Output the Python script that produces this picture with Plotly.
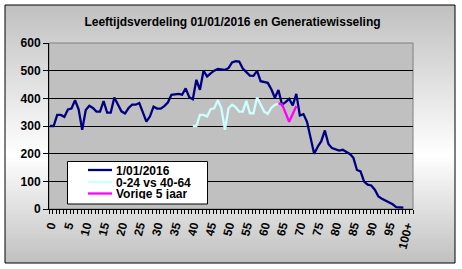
import plotly.graph_objects as go

W, H = 462, 269

# ---------------- data ----------------
ages = list(range(0, 100))
pop_2016 = [
    300, 300, 340, 340, 333, 360, 363, 393, 360, 286,
    358, 373, 365, 352, 352, 390, 348, 348, 403, 377,
    353, 345, 365, 377, 377, 383, 347, 316, 335, 370,
    363, 363, 372, 385, 413, 415, 416, 413, 436, 404,
    397, 467, 431, 500, 479, 490, 500, 506, 505, 503,
    509, 530, 534, 533, 508, 493, 482, 481, 499, 462,
    459, 456, 433, 402, 430, 377, 386, 398, 374, 416,
    338, 343, 315, 262, 200, 225, 245, 284, 235, 220,
    215, 211, 214, 207, 199, 185, 141, 136, 99, 88,
    85, 70, 45, 37, 30, 25, 17, 7, 5, 5,
]
gen_x = list(range(40, 65))
gen_vals = [300, 300, 340, 340, 334, 361, 364, 393, 364, 286,
            364, 377, 368, 352, 352, 391, 346, 346, 403, 377,
            352, 344, 365, 377, 380]
prev_x = list(range(64, 70))
prev_vals = [382, 378, 347, 315, 343, 372]

x_tick_vals = list(range(0, 101, 5))
x_tick_text = [str(v) for v in range(0, 100, 5)] + ["100+"]
y_tick_vals = [0, 100, 200, 300, 400, 500, 600]
y_grid_vals = [100, 200, 300, 400, 500]

series_names = ["1/01/2016", "0-24 vs 40-64", "Vorige 5 jaar"]
series_colors = ["#000080", "#CCFFFF", "#FF00FF"]
title_text = "Leeftijdsverdeling 01/01/2016 en Generatiewisseling"

FONT = "Liberation Sans, Arial, sans-serif"


def px(x):
    return x / W


def py(y):
    return 1 - y / H


fig = go.Figure()
for xs, ys, name, col in [
    (ages, pop_2016, series_names[0], series_colors[0]),
    (gen_x, gen_vals, series_names[1], series_colors[1]),
    (prev_x, prev_vals, series_names[2], series_colors[2]),
]:
    fig.add_trace(go.Scatter(x=xs, y=ys, mode="lines", name=name,
                             line=dict(color=col, width=2.3),
                             showlegend=False, hoverinfo="skip"))

shapes = []
# chart-area vertical gradient (gray - white - gray)
top, mid, bot = 5.0, 155.0, 263.0
c_edge, c_mid = 192, 255
step = 2.0
y = top
while y < bot:
    yc = y + step / 2
    if yc <= mid:
        t = (yc - top) / (mid - top)
    else:
        t = (bot - yc) / (bot - mid)
    c = int(round(c_edge + (c_mid - c_edge) * t))
    shapes.append(dict(type="rect", xref="paper", yref="paper",
                       x0=px(5), x1=px(455), y0=py(min(y + step + 0.6, bot)), y1=py(y),
                       fillcolor=f"rgb({c},{c},{c})", line=dict(width=0), layer="below"))
    y += step
# plot area
shapes.append(dict(type="rect", xref="x domain", yref="y domain", x0=0, x1=1, y0=0, y1=1,
                   fillcolor="#C0C0C0", line=dict(color="#808080", width=1), layer="below"))
# chart border
shapes.append(dict(type="rect", xref="paper", yref="paper", x0=px(5), x1=px(455),
                   y0=py(263), y1=py(5), line=dict(color="black", width=1), layer="above"))
# legend box
shapes.append(dict(type="rect", xref="paper", yref="paper", x0=px(67.5), x1=px(207.5),
                   y0=py(204), y1=py(161.5), fillcolor="white",
                   line=dict(color="black", width=1), layer="above"))
rows = [170, 182, 193.5]
annotations = []
for r, name, col in zip(rows, series_names, series_colors):
    shapes.append(dict(type="line", xref="paper", yref="paper", x0=px(88), x1=px(112),
                       y0=py(r), y1=py(r), line=dict(color=col, width=2.3), layer="above"))
    annotations.append(dict(xref="paper", yref="paper", x=px(115), y=py(r), text=name,
                            showarrow=False, xanchor="left", yanchor="middle",
                            height=11, valign="middle", borderpad=0,
                            font=dict(family=FONT, size=12, color="black", weight="bold")))

fig.update_layout(
    width=W, height=H,
    margin=dict(l=0, r=0, t=0, b=0, pad=0),
    paper_bgcolor="white", plot_bgcolor="rgba(0,0,0,0)",
    title=dict(text=title_text, x=px(232.5), xanchor="center", xref="paper",
               y=py(21.5), yanchor="middle", yref="container",
               font=dict(family=FONT, size=12, color="black", weight="bold")),
    shapes=shapes, annotations=annotations,
    showlegend=False,
    xaxis=dict(domain=[px(49), px(413)], range=[-0.3, 101.7], automargin=False,
               tickmode="array", tickvals=x_tick_vals, ticktext=x_tick_text,
               ticks="outside", ticklen=4, tickcolor="rgba(0,0,0,0)", tickangle=-76,
               tickfont=dict(family=FONT, size=12, color="black", weight="bold"),
               showline=True, linecolor="black", linewidth=1, showgrid=False, zeroline=False,
               minor=dict(tickmode="linear", tick0=-0.3, dtick=1, ticks="outside", ticklen=4,
                          tickcolor="black", tickwidth=1, showgrid=False)),
    yaxis=dict(domain=[py(209), py(43)], range=[0, 600], automargin=False,
               tickmode="array", tickvals=y_tick_vals,
               ticks="outside", ticklen=5, tickcolor="black", tickwidth=1,
               tickfont=dict(family=FONT, size=12, color="black", weight="bold"),
               showline=True, linecolor="black", linewidth=1,
               showgrid=False, zeroline=False,
               minor=dict(tickmode="array", tickvals=y_grid_vals, ticks="",
                          showgrid=True, gridcolor="black", gridwidth=1)),
)

fig.write_html("out.html")
